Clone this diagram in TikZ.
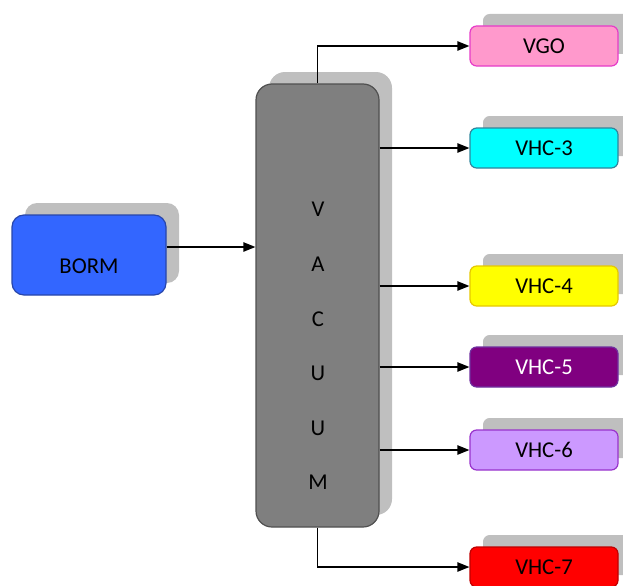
\documentclass[tikz,border=0pt]{standalone}
\usepackage{fontspec}
\setmainfont{Carlito}
\usetikzlibrary{positioning,shadows,arrows.meta}

\definecolor{bormBlue}{RGB}{51,102,255}
\definecolor{bormLine}{RGB}{40,70,170}
\definecolor{vacFill}{RGB}{127,127,127}
\definecolor{vacLine}{RGB}{80,80,80}
\definecolor{vgoFill}{RGB}{255,153,204}
\definecolor{vgoLine}{RGB}{230,60,200}
\definecolor{cyanFill}{RGB}{0,255,255}
\definecolor{cyanLine}{RGB}{49,133,156}
\definecolor{yelFill}{RGB}{255,255,0}
\definecolor{yelLine}{RGB}{230,200,0}
\definecolor{purpFill}{RGB}{128,0,128}
\definecolor{purpLine}{RGB}{112,48,160}
\definecolor{lilacFill}{RGB}{204,153,255}
\definecolor{lilacLine}{RGB}{153,51,204}
\definecolor{redFill}{RGB}{255,0,0}
\definecolor{redLine}{RGB}{192,0,0}

\begin{document}
\begin{tikzpicture}[x=0.75pt, y=-0.75pt,
    shade/.style={general shadow={fill=gray!50, shadow xshift=9.75pt, shadow yshift=9pt}},
    prodbox/.style={rectangle, draw, line width=0.9pt, rounded corners=5pt, shade,
                    minimum width=111pt, minimum height=30pt, font=\fontsize{17}{20}\selectfont},
    flow/.style={-{Triangle[length=9pt, width=7pt]}, line width=1pt}
]
    \useasboundingbox (0,0) rectangle (623,585);
    \clip (0,0) rectangle (623,585);

    \node[rectangle, draw=bormLine, fill=bormBlue, line width=0.9pt, rounded corners=9pt, shade,
          minimum width=115.5pt, minimum height=60pt] (borm) at (89,255) {};
    \node[font=\fontsize{17}{20}\selectfont] (bormtxt) at (89,266) {BORM};

    \node[rectangle, draw=vacLine, fill=vacFill, line width=0.9pt, rounded corners=12pt, shade,
          minimum width=92.25pt, minimum height=332.25pt] (vac) at (317.5,305.5) {};
    \foreach \l [count=\i] in {V,A,C,U,U,M}
        \node[font=\fontsize{17}{20}\selectfont] (vac\i) at (318,155+54.6*\i) {\l};

    \node[prodbox, draw=vgoLine,   fill=vgoFill]   (vgo)  at (544,46)  {VGO};
    \node[prodbox, draw=cyanLine,  fill=cyanFill]  (vhc3) at (544,148) {VHC-3};
    \node[prodbox, draw=yelLine,   fill=yelFill]   (vhc4) at (544,286) {VHC-4};
    \node[prodbox, draw=purpLine,  fill=purpFill, text=white] (vhc5) at (544,367) {VHC-5};
    \node[prodbox, draw=lilacLine, fill=lilacFill] (vhc6) at (544,450) {VHC-6};
    \node[prodbox, draw=redLine,   fill=redFill]   (vhc7) at (544,567) {VHC-7};

    \draw[flow] ([yshift=6pt]borm.east) -- ([yshift=6pt]borm.east -| vac.west);
    \draw[flow] (vac.north) |- (vgo.west);
    \draw[flow] (vac.east |- vhc3.west) -- (vhc3.west);
    \draw[flow] (vac.east |- vhc4.west) -- (vhc4.west);
    \draw[flow] (vac.east |- vhc5.west) -- (vhc5.west);
    \draw[flow] (vac.east |- vhc6.west) -- (vhc6.west);
    \draw[flow] (vac.south) |- (vhc7.west);
\end{tikzpicture}
\end{document}
